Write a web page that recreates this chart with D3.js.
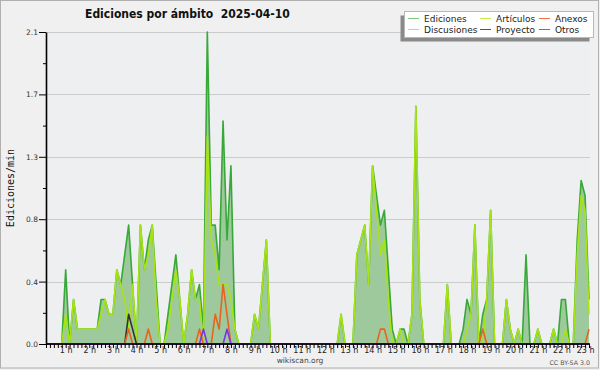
<!DOCTYPE html>
<html>
<head>
<meta charset="utf-8">
<script src="https://cdn.jsdelivr.net/npm/d3@7"></script>
<style>
body { margin: 0; background: #f0f0f0; }
svg { display: block; font-family: "DejaVu Sans", sans-serif; }
</style>
</head>
<body>
<script>
var width = 600,
    height = 370;

// one value every 10 minutes, first slot at 00:10
var startMin = 10, stepMin = 10;

var ediciones = [
  0,0,0,0,0,0.5,0,0.3,0.1,0.1,0.1,0.1,
  0.1,0.1,0.3,0.3,0.2,0.2,0.5,0.4,0.6,0.8,0.4,0,
  0.8,0.5,0.7,0.8,0.4,0,0,0.2,0.4,0.6,0.3,0,
  0.2,0.5,0.3,0.4,0.1,2.1,0.8,0.8,0.5,1.5,0.7,1.2,
  0.1,0,0,0,0,0.2,0.1,0.4,0.7,0,0,0,
  0,0,0,0,0,0,0,0,0,0,0,0,
  0,0,0,0.2,0,0,0,0.6,0.7,0.8,0.4,1.2,
  1.0,0.8,0.9,0.5,0.1,0,0.1,0.1,0,0.2,1.6,0.3,
  0,0,0,0,0,0,0.4,0,0,0,0.1,0.3,
  0.2,0.8,0,0.2,0.3,0.9,0,0,0,0.3,0.1,0,
  0.1,0,0.6,0,0,0.1,0,0,0,0.1,0,0.3,
  0.3,0,0,0.7,1.1,1.0,0.3
];
var articulos = [
  0,0,0,0,0,0.2,0,0.3,0.1,0.1,0.1,0.1,
  0.1,0.1,0.2,0.3,0.2,0.2,0.5,0.4,0.3,0.1,0.4,0,
  0.8,0.5,0.6,0.8,0.3,0,0,0.1,0.3,0.5,0.3,0,
  0.2,0.5,0.3,0.3,0,1.4,0.7,0.6,0.4,0.4,0.4,0.3,
  0.1,0,0,0,0,0.2,0.1,0.4,0.7,0,0,0,
  0,0,0,0,0,0,0,0,0,0,0,0,
  0,0,0,0.2,0,0,0,0.6,0.7,0.8,0.4,1.2,
  0.9,0.6,0.7,0.3,0,0,0.1,0,0,0.2,1.6,0.3,
  0,0,0,0,0,0,0.4,0,0,0,0,0.1,
  0.2,0.8,0,0,0.3,0.9,0,0,0,0.3,0.1,0,
  0.1,0,0,0,0,0.1,0,0,0,0.1,0,0,
  0.1,0,0,0.6,1.0,0.9,0.2
];
var anexos = [
  0,0,0,0,0,0,0,0,0,0,0,0,
  0,0,0,0,0,0,0,0,0,0.1,0,0,
  0,0,0.1,0,0,0,0,0,0,0,0,0,
  0,0,0,0.1,0,0,0,0.2,0.1,0.4,0.2,0,
  0,0,0,0,0,0,0,0,0,0,0,0,
  0,0,0,0,0,0,0,0,0,0,0,0,
  0,0,0,0,0,0,0,0,0,0,0,0,
  0,0.1,0.1,0,0,0,0,0,0,0,0,0,
  0,0,0,0,0,0,0,0,0,0,0,0,
  0,0,0,0.1,0,0,0,0,0,0,0,0,
  0,0,0,0,0,0,0,0,0,0,0,0,
  0,0,0,0,0,0,0.1
];
var proyecto = [
  0,0,0,0,0,0,0,0,0,0,0,0,
  0,0,0,0,0,0,0,0,0,0.2,0.1,0,
  0,0,0,0,0,0,0,0,0,0,0,0,
  0,0,0,0,0,0,0,0,0,0,0,0,
  0,0,0,0,0,0,0,0,0,0,0,0,
  0,0,0,0,0,0,0,0,0,0,0,0,
  0,0,0,0,0,0,0,0,0,0,0,0,
  0,0,0,0,0,0,0,0,0,0,0,0,
  0,0,0,0,0,0,0,0,0,0,0,0,
  0,0,0,0,0,0,0,0,0,0,0,0,
  0,0,0,0,0,0,0,0,0,0,0,0,
  0,0,0,0,0,0,0
];
var otros = [
  0,0,0,0,0,0,0,0,0,0,0,0,
  0,0,0,0,0,0,0,0,0,0,0,0,
  0,0,0,0,0,0,0,0,0,0,0,0,
  0,0,0,0,0.1,0,0,0,0,0,0.1,0,
  0,0,0,0,0,0,0,0,0,0,0,0,
  0,0,0,0,0,0,0,0,0,0,0,0,
  0,0,0,0,0,0,0,0,0,0,0,0,
  0,0,0,0,0,0,0,0,0,0,0,0,
  0,0,0,0,0,0,0,0,0,0,0,0,
  0,0,0,0,0,0,0,0,0,0,0,0,
  0,0,0,0,0,0,0,0,0,0,0,0,
  0,0,0,0,0,0,0
];
var discusiones = ediciones.map(() => 0); // nothing on talk pages that day

var hourTicks = [1,2,3,4,5,6,7,8,9,10,11,12,13,14,15,16,17,18,19,20,21,22,23];
var yTicks = [0, 0.42, 0.84, 1.26, 1.68, 2.1];

var legendNames = ["Ediciones", "Discusiones", "Artículos", "Proyecto", "Anexos", "Otros"];
var legendColors = ["#7cc87c", "#f2c94a", "#c4ec50", "#555555", "#ee7040", "#9050e8"];

var svg = d3.select("body").append("svg").attr("width", width).attr("height", height);

svg.append("rect").attr("x", 0.5).attr("y", 0.5).attr("width", width - 2).attr("height", height - 2.5)
    .attr("fill", "#f0f0f0").attr("stroke", "#b0b0b0");

var x = d3.scaleLinear()
    .domain([startMin, startMin + stepMin * (ediciones.length - 1)])
    .range([46, 589]);
var y = d3.scaleLinear().domain([0, 2.1]).range([344, 32]);
var tx = (d, i) => x(startMin + i * stepMin);

svg.append("rect").attr("x", 46).attr("y", 32).attr("width", 544).attr("height", 312).attr("fill", "#eeeff1");

// grid
svg.selectAll("line.grid").data(yTicks).enter().append("line")
    .attr("class", "grid")
    .attr("x1", 46).attr("x2", 590)
    .attr("y1", d => Math.round(y(d)) + 0.5).attr("y2", d => Math.round(y(d)) + 0.5)
    .attr("stroke", "#cbcbcb");

// filled total
svg.append("path").datum(ediciones)
    .attr("d", d3.area().x(tx).y0(y(0)).y1(d => y(d)))
    .attr("fill", "#9ec99c");

var series = [
  [ediciones, "#38a838"],
  [discusiones, "#f2c94a"],
  [articulos, "#a8e414"],
  [proyecto, "#333333"],
  [anexos, "#e8641e"],
  [otros, "#7a36e6"]
];
var line = d3.line().x(tx).y(d => y(d));
series.forEach(function (s) {
  svg.append("path").datum(s[0])
      .attr("d", line)
      .attr("fill", "none")
      .attr("stroke", s[1])
      .attr("stroke-width", 1.6)
      .attr("stroke-linejoin", "round");
});

// y axis: labelled ticks + minor ticks
var minor = yTicks.slice(1).map((d, i) => (d + yTicks[i]) / 2);
svg.append("g").attr("transform", "translate(46,0)")
    .call(d3.axisLeft(y).tickValues(minor).tickSize(3).tickFormat(""))
    .call(g => g.select(".domain").remove());
var ya = svg.append("g").attr("transform", "translate(46,0)")
    .call(d3.axisLeft(y).tickValues(yTicks).tickSize(7).tickSizeOuter(0).tickPadding(1).tickFormat(d3.format(".1f")));
ya.selectAll("text").attr("font-size", 7.5).attr("fill", "#333").attr("font-family", "DejaVu Sans");
ya.select(".domain").attr("stroke-width", 1.6);

// x axis: a tick every slot, label on each hour
var slots = ediciones.map((d, i) => startMin + i * stepMin);
var xa = svg.append("g").attr("transform", "translate(0,344)")
    .call(d3.axisBottom(x).tickValues(slots).tickSize(4).tickSizeOuter(0)
        .tickFormat(m => hourTicks.indexOf(m / 60) >= 0 ? (m / 60) + " h" : ""));
xa.selectAll("text").attr("y", 9).attr("dy", 0).attr("font-size", 8).attr("fill", "#222").attr("font-family", "DejaVu Sans");
xa.select(".domain").attr("stroke-width", 1.6).attr("d", "M46,0H590");

// texts
svg.append("text").attr("x", 85).attr("y", 18)
    .attr("font-family", "'DejaVu Sans Condensed', 'DejaVu Sans'").attr("font-stretch", "condensed")
    .attr("font-weight", "bold").attr("font-size", 12).attr("fill", "#111")
    .attr("xml:space", "preserve").text("Ediciones por ámbito  2025-04-10");

svg.append("text").attr("transform", "translate(14,188) rotate(-90)")
    .attr("text-anchor", "middle").attr("font-family", "DejaVu Sans Mono").attr("font-size", 10)
    .attr("fill", "#111").text("Ediciones/min");

svg.append("text").attr("x", 300).attr("y", 363).attr("text-anchor", "middle")
    .attr("font-size", 7.5).attr("fill", "#444").text("wikiscan.org");
svg.append("text").attr("x", 590).attr("y", 365).attr("text-anchor", "end")
    .attr("font-size", 6.3).attr("fill", "#555").text("CC BY-SA 3.0");

// legend
var lg = svg.append("g");
lg.append("rect").attr("x", 400.5).attr("y", 15.5).attr("width", 189).attr("height", 26).attr("fill", "#8a8a8a");
lg.append("rect").attr("x", 404.5).attr("y", 11.5).attr("width", 189).attr("height", 26)
    .attr("fill", "#ffffff").attr("stroke", "#b8b8b8");
var colX = [408, 480, 539];
var rowY = [18.5, 29.5];
legendNames.forEach(function (n, k) {
  var cx = colX[Math.floor(k / 2)], cy = rowY[k % 2];
  lg.append("line").attr("x1", cx).attr("x2", cx + 11).attr("y1", cy).attr("y2", cy)
      .attr("stroke", legendColors[k]).attr("stroke-width", 1);
  lg.append("text").attr("x", cx + 16).attr("y", cy + 3.2).attr("font-size", 9)
      .attr("fill", "#222").text(n);
});
</script>
</body>
</html>
